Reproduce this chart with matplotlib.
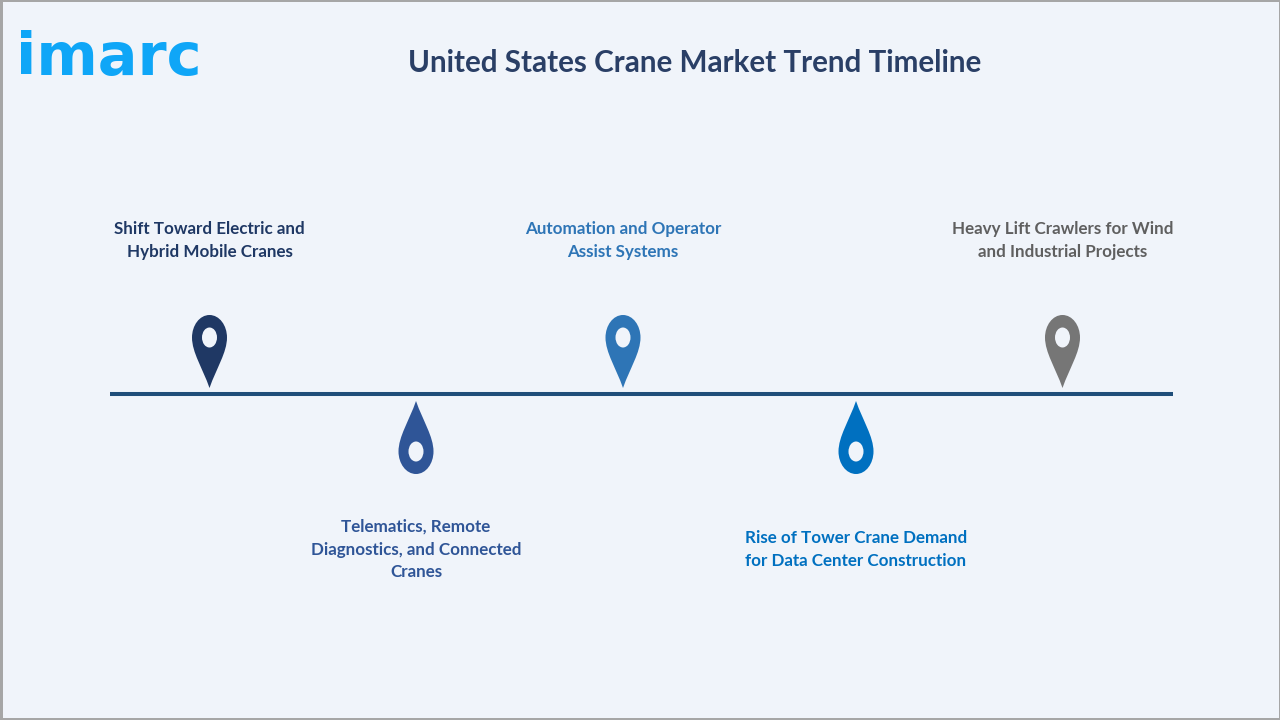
import matplotlib
matplotlib.use("Agg")
import matplotlib.pyplot as plt
from matplotlib.patches import PathPatch, Ellipse, Rectangle
from matplotlib.path import Path

plt.rcParams['font.family'] = ['Lato', 'DejaVu Sans']

title = "United States Crane Market Trend Timeline"
labels = [
    "Shift Toward Electric and\nHybrid Mobile Cranes",
    "Telematics, Remote\nDiagnostics, and Connected\nCranes",
    "Automation and Operator\nAssist Systems",
    "Rise of Tower Crane Demand\nfor Data Center Construction",
    "Heavy Lift Crawlers for Wind\nand Industrial Projects",
]
colors = ["#1F3864", "#2F5597", "#2E75B6", "#0070C0", "#767676"]
text_colors = ["#1F3864", "#2F5597", "#2E75B6", "#0070C0", "#5F5F5F"]
pin_x = [209.5, 416, 623, 856, 1062.5]
pin_up = [True, False, True, False, True]
label_y = [240.5, 549.5, 240.5, 549.5, 240.5]

BG = "#F0F4FA"
LOGO = "#0FA6F7"


def pin_path(x, tip_y, up):
    # tip_y is the sharp end, direction says which way the round head goes
    s = -1 if up else 1
    h = 73
    r = 17.5
    cy = tip_y + s * (h - 22.5)
    verts = [
        (x, tip_y),
        (x - 7, tip_y + s * 20), (x - r, cy - s * 15), (x - r, cy),
        (x - r, cy + s * 12), (x - 10, cy + s * 22.5), (x, cy + s * 22.5),
        (x + 10, cy + s * 22.5), (x + r, cy + s * 12), (x + r, cy),
        (x + r, cy - s * 15), (x + 7, tip_y + s * 20), (x, tip_y),
    ]
    codes = [Path.MOVETO] + [Path.CURVE4] * 12
    return Path(verts, codes), cy


fig = plt.figure(figsize=(12.8, 7.2), dpi=100, facecolor=BG)
ax = fig.add_axes([0, 0, 1, 1])
ax.set_xlim(0, 1280)
ax.set_ylim(720, 0)
ax.axis('off')

# grey frame of the slide
ax.add_patch(Rectangle((0, 0), 1280, 2, color="#A6A6A6", lw=0))
ax.add_patch(Rectangle((0, 0), 2.5, 720, color="#A6A6A6", lw=0))
ax.add_patch(Rectangle((0, 718), 1280, 2, color="#A6A6A6", lw=0))
ax.add_patch(Rectangle((1279, 0), 1, 720, color="#A6A6A6", lw=0))

ax.text(694.5, 63.5, title, fontsize=21.35, fontweight='bold', color="#2A3F66",
        ha='center', va='center')

# logo
ax.text(16, 75, "imarc", fontsize=42.5, fontweight='bold', color=LOGO,
        family=['DejaVu Sans'], ha='left', va='baseline')

ax.plot([110, 1173], [394, 394], color="#1F4E79", lw=2.9, solid_capstyle='butt')

for x, up, c, tc, lab, ly in zip(pin_x, pin_up, colors, text_colors, labels, label_y):
    tip = 388 if up else 401
    path, cy = pin_path(x, tip, up)
    ax.add_patch(PathPatch(path, facecolor=c, edgecolor='none'))
    ax.add_patch(Ellipse((x, cy), 15, 20, facecolor=BG, edgecolor='none'))
    ax.text(x, ly, lab, fontsize=12.25, fontweight='bold', color=tc,
            ha='center', va='center', linespacing=1.5)

fig.savefig("out.png", dpi=100, facecolor=BG)
